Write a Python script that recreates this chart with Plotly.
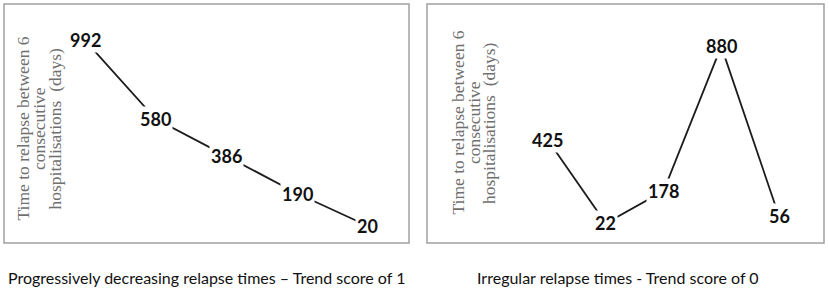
import plotly.graph_objects as go

W, H = 829, 292

# ---- data ----
intervals = [1, 2, 3, 4, 5]
decreasing_days = [992, 580, 386, 190, 20]
irregular_days = [425, 22, 178, 880, 56]

y_title_lines = ["Time to relapse between 6", "consecutive", "hospitalisations  (days)"]
caption_left = "Progressively decreasing relapse times \u2013 Trend score of 1"
caption_right = "Irregular relapse times - Trend score of 0"


def px(x):
    return x / W


def py(y):
    return 1 - y / H


fig = go.Figure()

line_style = dict(color="#1c1c1c", width=1.8)
fig.add_trace(go.Scatter(x=intervals, y=decreasing_days, mode="lines", line=line_style,
                         xaxis="x", yaxis="y", hoverinfo="skip", showlegend=False))
fig.add_trace(go.Scatter(x=intervals, y=irregular_days, mode="lines", line=line_style,
                         xaxis="x2", yaxis="y2", hoverinfo="skip", showlegend=False))

annotations = []
label_font = dict(family="Lato, Arial, sans-serif", size=18, color="#111111", weight="bold")
for xv, yv in zip(intervals, decreasing_days):
    annotations.append(dict(x=xv, y=yv, xref="x", yref="y", text=str(yv), showarrow=False,
                            font=label_font, bgcolor="white", borderpad=1,
                            xanchor="center", yanchor="middle"))
for xv, yv in zip(intervals, irregular_days):
    annotations.append(dict(x=xv, y=yv, xref="x2", yref="y2", text=str(yv), showarrow=False,
                            font=label_font, bgcolor="white", borderpad=1,
                            xanchor="center", yanchor="middle"))

title_font = dict(family="Liberation Serif, Times New Roman, serif", size=17.5, color="#707070")
for xs, yc in (((22.5, 39, 54.5), 129), ((457.5, 474, 489), 123)):
    for xl, txt in zip(xs, y_title_lines):
        annotations.append(dict(x=px(xl), y=py(yc), xref="paper", yref="paper", text=txt,
                                showarrow=False, textangle=-90, font=title_font,
                                xanchor="center", yanchor="middle"))

cap_font = dict(family="Lato, Arial, sans-serif", size=16, color="#111111")
annotations.append(dict(x=px(206), y=py(277), xref="paper", yref="paper", text=caption_left,
                        showarrow=False, font=cap_font, xanchor="center", yanchor="middle"))
annotations.append(dict(x=px(617.5), y=py(277), xref="paper", yref="paper", text=caption_right,
                        showarrow=False, font=cap_font, xanchor="center", yanchor="middle"))

box_line = dict(color="#a0a0a0", width=1.5)
shapes = [
    dict(type="rect", xref="paper", yref="paper", x0=px(4), x1=px(409), y0=py(243), y1=py(4),
         line=box_line, layer="below"),
    dict(type="rect", xref="paper", yref="paper", x0=px(427), x1=px(824), y0=py(243), y1=py(4),
         line=box_line, layer="below"),
]

hidden = dict(visible=False, showgrid=False, zeroline=False, fixedrange=True)
fig.update_layout(
    width=W, height=H,
    margin=dict(l=0, r=0, t=0, b=0),
    paper_bgcolor="white", plot_bgcolor="rgba(0,0,0,0)",
    xaxis=dict(domain=[px(4), px(409)], range=[-0.145, 5.58], anchor="y", **hidden),
    yaxis=dict(domain=[py(243), py(4)], range=[-69.3, 1182.7], anchor="x", **hidden),
    xaxis2=dict(domain=[px(427), px(824)], range=[-1.095, 5.779], anchor="y2", **hidden),
    yaxis2=dict(domain=[py(243), py(4)], range=[-74.0, 1085.6], anchor="x2", **hidden),
    annotations=annotations,
    shapes=shapes,
    showlegend=False,
)

fig.write_html(
    "out.html",
    config={"displayModeBar": False},
    post_script="document.body.style.margin='0';document.body.style.padding='0';"
                "document.body.style.overflow='hidden';",
)
